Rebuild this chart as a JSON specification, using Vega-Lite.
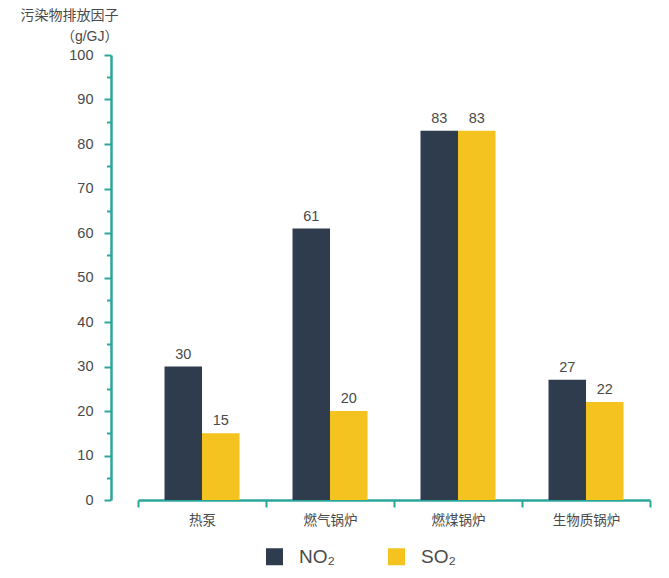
{
  "$schema": "https://vega.github.io/schema/vega-lite/v6.json",
  "autosize": {"type": "none"},
  "width": 559,
  "height": 445,
  "padding": {"left": 111, "top": 55, "right": 0, "bottom": 78},
  "background": "#ffffff",
  "config": {
    "view": {"stroke": null},
    "font": "Liberation Sans, Noto Sans CJK SC, sans-serif"
  },
  "data": {
    "values": [
      {"category": "热泵", "pollutant": "NO₂", "value": 30},
      {"category": "热泵", "pollutant": "SO₂", "value": 15},
      {"category": "燃气锅炉", "pollutant": "NO₂", "value": 61},
      {"category": "燃气锅炉", "pollutant": "SO₂", "value": 20},
      {"category": "燃煤锅炉", "pollutant": "NO₂", "value": 83},
      {"category": "燃煤锅炉", "pollutant": "SO₂", "value": 83},
      {"category": "生物质锅炉", "pollutant": "NO₂", "value": 27},
      {"category": "生物质锅炉", "pollutant": "SO₂", "value": 22}
    ]
  },
  "encoding": {
    "x": {
      "field": "category",
      "type": "nominal",
      "sort": ["热泵", "燃气锅炉", "燃煤锅炉", "生物质锅炉"],
      "scale": {"range": [27, 539], "paddingInner": 0, "paddingOuter": 0},
      "axis": {
        "title": null,
        "tickBand": "extent",
        "domainColor": "#2aa69c",
        "domainWidth": 2.5,
        "tickColor": "#2aa69c",
        "tickWidth": 2,
        "tickSize": 7,
        "labelAngle": 0,
        "labelFontSize": 13.5,
        "labelColor": "#4a4a4a",
        "labelPadding": 6,
        "grid": false
      }
    },
    "xOffset": {
      "field": "pollutant",
      "type": "nominal",
      "scale": {"paddingInner": 0, "paddingOuter": 0.707}
    },
    "y": {
      "field": "value",
      "type": "quantitative",
      "scale": {"domain": [0, 100], "nice": false},
      "axis": {
        "title": ["污染物排放因子", "（g/GJ）"],
        "titleAngle": 0,
        "titleAlign": "right",
        "titleBaseline": "top",
        "titleX": 7,
        "titleY": -47,
        "titleFontSize": 14,
        "titleFontWeight": "normal",
        "titleColor": "#4a4a4a",
        "titleLineHeight": 21,
        "values": [0, 5, 10, 15, 20, 25, 30, 35, 40, 45, 50, 55, 60, 65, 70, 75, 80, 85, 90, 95, 100],
        "labelExpr": "datum.value % 10 === 0 ? datum.label : ''",
        "tickSize": {"condition": {"test": "datum.value % 10 === 0", "value": 7}, "value": 4.5},
        "domainColor": "#2aa69c",
        "domainWidth": 2.5,
        "tickColor": "#2aa69c",
        "tickWidth": 2,
        "labelFontSize": 14.5,
        "labelColor": "#4a4a4a",
        "labelPadding": 11,
        "grid": false
      }
    }
  },
  "layer": [
    {
      "mark": {"type": "bar"},
      "encoding": {
        "color": {
          "field": "pollutant",
          "type": "nominal",
          "scale": {"domain": ["NO₂", "SO₂"], "range": ["#2e3c4e", "#f4c320"]},
          "legend": {
            "title": null,
            "orient": "none",
            "direction": "horizontal",
            "legendX": 154,
            "legendY": 492,
            "symbolType": "square",
            "symbolSize": 289,
            "symbolStrokeWidth": 0,
            "symbolOpacity": 1,
            "labelFontSize": 19,
            "labelColor": "#4a4a4a",
            "labelOffset": 15,
            "columnPadding": 52
          }
        }
      }
    },
    {
      "mark": {"type": "text", "baseline": "bottom", "dy": -5, "fontSize": 14.5, "color": "#4a4a4a"},
      "encoding": {
        "text": {"field": "value", "type": "quantitative"}
      }
    }
  ]
}
